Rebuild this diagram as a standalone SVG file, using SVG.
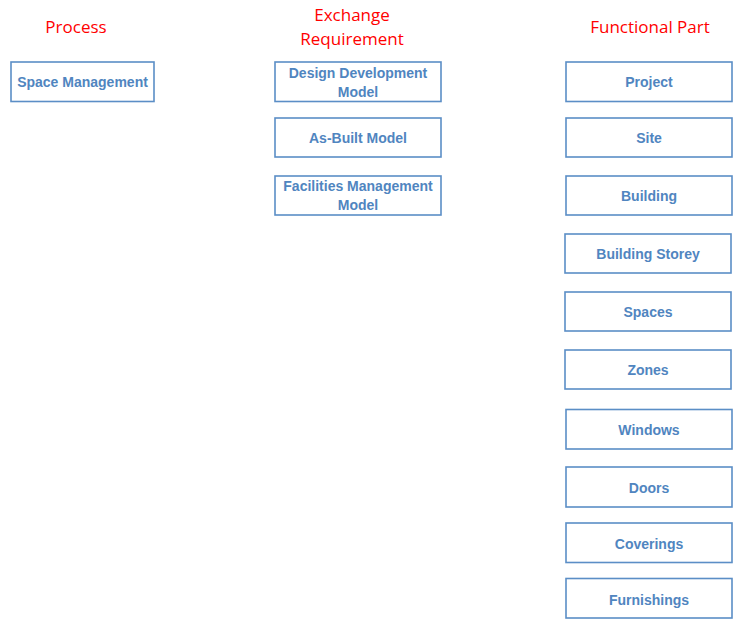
<svg xmlns="http://www.w3.org/2000/svg" width="735" height="625" viewBox="0 0 735 625">
<style>
.box{fill:#fff;stroke:#5b8ec6;stroke-width:1.6}
.lbl{font-family:"Liberation Sans",Arial,sans-serif;font-weight:bold;font-size:14px;fill:#5085c0;text-anchor:middle}
.hdr{font-family:"Open Sans","Liberation Sans",sans-serif;font-size:17px;fill:#ff0000;text-anchor:middle}
</style>
<rect width="735" height="625" fill="#fff"/>
<text class="hdr" x="76" y="33">Process</text>
<text class="hdr" x="352" y="21">Exchange</text>
<text class="hdr" x="352" y="45">Requirement</text>
<text class="hdr" x="650" y="33">Functional Part</text>
<g id="connectors"/>
<g id="space-management"><rect class="box" x="11" y="62" width="143" height="39.5"/><text class="lbl" x="82.5" y="87">Space Management</text></g>
<g id="design-development-model"><rect class="box" x="275" y="62" width="166" height="39.5"/><text class="lbl" x="358" y="78">Design Development</text><text class="lbl" x="358" y="97">Model</text></g>
<g id="as-built-model"><rect class="box" x="275" y="118" width="166" height="39"/><text class="lbl" x="358" y="143">As-Built Model</text></g>
<g id="facilities-management-model"><rect class="box" x="275" y="176" width="166" height="39"/><text class="lbl" x="358" y="191">Facilities Management</text><text class="lbl" x="358" y="210">Model</text></g>
<g id="project"><rect class="box" x="566" y="62" width="166" height="39.5"/><text class="lbl" x="649" y="87">Project</text></g>
<g id="site"><rect class="box" x="566" y="118" width="166" height="39"/><text class="lbl" x="649" y="143">Site</text></g>
<g id="building"><rect class="box" x="566" y="176" width="166" height="39"/><text class="lbl" x="649" y="201">Building</text></g>
<g id="building-storey"><rect class="box" x="565" y="234" width="166" height="39"/><text class="lbl" x="648" y="259">Building Storey</text></g>
<g id="spaces"><rect class="box" x="565" y="292" width="166" height="39"/><text class="lbl" x="648" y="317">Spaces</text></g>
<g id="zones"><rect class="box" x="565" y="350" width="166" height="39"/><text class="lbl" x="648" y="375">Zones</text></g>
<g id="windows"><rect class="box" x="566" y="409.5" width="166" height="39.5"/><text class="lbl" x="649" y="435">Windows</text></g>
<g id="doors"><rect class="box" x="566" y="467" width="166" height="40"/><text class="lbl" x="649" y="493">Doors</text></g>
<g id="coverings"><rect class="box" x="566" y="523" width="166" height="39.5"/><text class="lbl" x="649" y="549">Coverings</text></g>
<g id="furnishings"><rect class="box" x="566" y="578.5" width="166" height="39.5"/><text class="lbl" x="649" y="605">Furnishings</text></g>
</svg>
